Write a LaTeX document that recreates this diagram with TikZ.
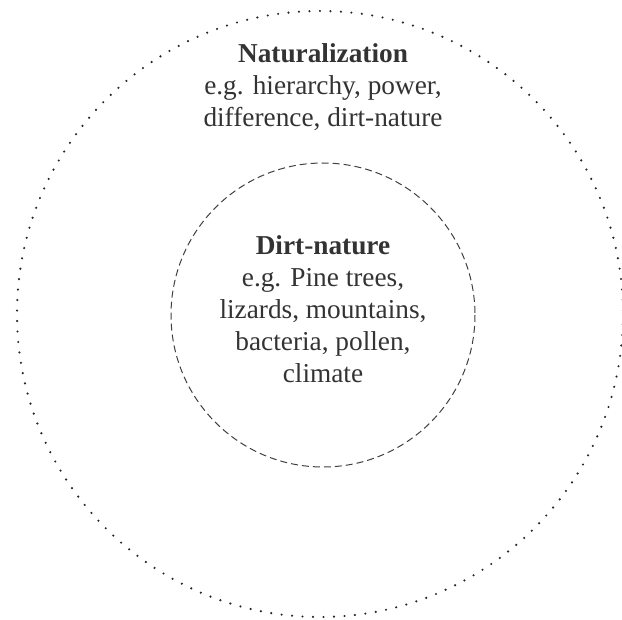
\documentclass[tikz,border=0pt]{standalone}
\usepackage{fontspec}
\setmainfont{Liberation Serif}
\begin{document}
\begin{tikzpicture}[x=1pt,y=-1pt,line cap=round,
    labeltext/.style={anchor=north,align=center,inner sep=0pt,text=black!80,
        font=\fontsize{27.3}{32}\selectfont}]
        \useasboundingbox (0,0) rectangle (622,620);
        % draw the circles
        \draw[black!85,line width=2.4pt,dash pattern=on 0pt off 10.5pt] (320,314) circle (303);
        \draw[black!75,line width=1pt,dash pattern=on 7pt off 4pt,line cap=butt] (323,315) circle (152);
        % labels
        \node[labeltext] (natural) at (323,43) {\textbf{Naturalization}\\e.g. hierarchy, power,\\difference, dirt-nature};
        \node[labeltext] (dirt) at (323,235) {\textbf{Dirt-nature}\\e.g. Pine trees,\\lizards, mountains,\\bacteria, pollen,\\climate};
\end{tikzpicture}
\end{document}
